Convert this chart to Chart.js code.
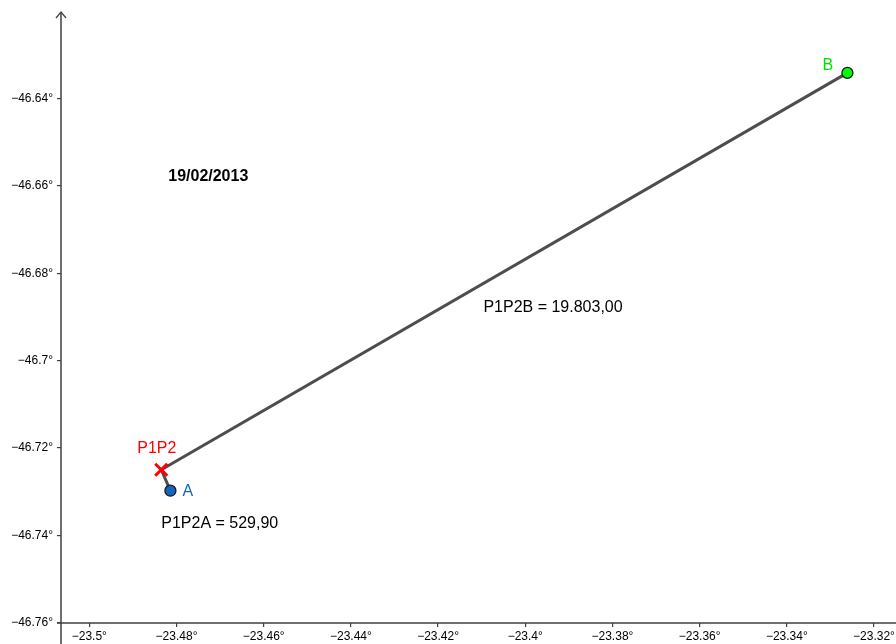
<!DOCTYPE html>
<html>
<head>
<meta charset="utf-8">
<script src="https://cdn.jsdelivr.net/npm/chart.js@4"></script>
<style>
  html, body { margin: 0; padding: 0; background: #fff; }
  #wrap { width: 896px; height: 644px; }
</style>
</head>
<body>
<div id="wrap"><canvas id="geoChart" width="896" height="644"></canvas></div>
<script>
// points (x = lat, y = lon as plotted)
const pointNames = ['A', 'P1P2', 'B'];
const pointX = [-23.4814, -23.4835, -23.3261];
const pointY = [-46.7298, -46.7250, -46.6341];

// segments: pairs of point indices
const segments = [[1, 0], [1, 2]];

const xTicks = [-23.5, -23.48, -23.46, -23.44, -23.42, -23.4, -23.38, -23.36, -23.34, -23.32];
const yTicks = [-46.76, -46.74, -46.72, -46.7, -46.68, -46.66, -46.64];

const dateText = '19/02/2013';
const distText = ['P1P2A = 529,90', 'P1P2B = 19.803,00'];
// anchors of free texts, in data coords (left, middle)
const dateAt = [-23.4819, -46.6575];
const distAt = [[-23.4835, -46.7369], [-23.4096, -46.6874]];

const FONT = '"Liberation Sans", Arial, sans-serif';
const AXIS = '#404040';

function fmt(v) {
	let s = String(Math.abs(v));
	return (v < 0 ? '\u2212' : '') + s + '\u00b0';
}

function noPad(s) {
	s.paddingTop = 0; s.paddingBottom = 0;
	s.paddingLeft = 0; s.paddingRight = 0;
}

const pts = pointNames.map((n, i) => ({ x: pointX[i], y: pointY[i] }));

const segSets = segments.map(s => ({
	type: 'line',
	data: [pts[s[0]], pts[s[1]]],
	borderColor: '#4d4d4d',
	borderWidth: 3,
	pointRadius: 0,
	showLine: true,
	fill: false
}));

const labelsPlugin = {
	id: 'geoLabels',
	afterDatasetsDraw(chart) {
		const c = chart.ctx;
		const xs = chart.scales.x, ys = chart.scales.y;
		const area = chart.chartArea;
		const dy = 2; // baseline nudge
		c.save();
		// axes lines
		c.strokeStyle = AXIS;
		c.lineWidth = 1.5;
		c.beginPath();
		c.moveTo(area.left, 12);
		c.lineTo(area.left, chart.height);
		c.moveTo(area.left - 4, area.bottom);
		c.lineTo(chart.width, area.bottom);
		c.stroke();
		c.beginPath();
		c.moveTo(area.left - 5, 18);
		c.lineTo(area.left, 12);
		c.lineTo(area.left + 5, 18);
		c.lineWidth = 1.2;
		c.stroke();

		c.textBaseline = 'middle';
		c.textAlign = 'left';
		// free texts
		c.fillStyle = '#000';
		c.font = 'bold 16px ' + FONT;
		c.fillText(dateText, xs.getPixelForValue(dateAt[0]), ys.getPixelForValue(dateAt[1]) + dy);
		c.font = '16px ' + FONT;
		distText.forEach((t, i) => {
			c.fillText(t, xs.getPixelForValue(distAt[i][0]), ys.getPixelForValue(distAt[i][1]) + dy);
		});
		// point labels
		const offs = [[12, -1, '#1565c0'], [-24, -23, '#ff0000'], [-25, -9, '#00e000']];
		pointNames.forEach((n, i) => {
			const px = xs.getPixelForValue(pointX[i]);
			const py = ys.getPixelForValue(pointY[i]);
			c.fillStyle = offs[i][2];
			c.fillText(n, px + offs[i][0], py + offs[i][1] + dy);
		});
		c.restore();
	}
};

new Chart(document.getElementById('geoChart').getContext('2d'), {
	type: 'scatter',
	data: {
		datasets: [{
			data: pts,
			pointStyle: ['circle', 'crossRot', 'circle'],
			pointRadius: [5.5, 8.5, 5.5],
			pointBorderWidth: [1.3, 3, 1.3],
			pointBackgroundColor: ['#1565c0', '#ff0000', '#00ff00'],
			pointBorderColor: ['#1a1a1a', '#ff0000', '#1a1a1a'],
			pointHoverRadius: [5.5, 8.5, 5.5]
		}].concat(segSets)
	},
	plugins: [labelsPlugin],
	options: {
		responsive: false,
		animation: false,
		layout: { padding: 0, autoPadding: false },
		plugins: {
			legend: { display: false },
			tooltip: { enabled: false }
		},
		scales: {
			x: {
				type: 'linear',
				min: -23.5065,
				max: -23.31495,
				afterBuildTicks: s => { s.ticks = xTicks.map(v => ({ value: v })); },
				afterFit: s => { s.height = 21; noPad(s); },
				grid: { drawOnChartArea: false, drawTicks: true, tickLength: 4, color: AXIS, lineWidth: 1.2 },
				border: { display: false },
				ticks: {
					callback: v => fmt(v),
					color: '#000',
					padding: 2,
					maxRotation: 0,
					autoSkip: false,
					font: { family: FONT, size: 12 }
				}
			},
			y: {
				type: 'linear',
				min: -46.7601,
				max: -46.6174,
				afterBuildTicks: s => { s.ticks = yTicks.map(v => ({ value: v })); },
				afterFit: s => { s.width = 61; noPad(s); },
				grid: { drawOnChartArea: false, drawTicks: true, tickLength: 4, color: AXIS, lineWidth: 1.2 },
				border: { display: false },
				ticks: {
					callback: v => fmt(v),
					color: '#000',
					padding: 4,
					autoSkip: false,
					font: { family: FONT, size: 12 }
				}
			}
		}
	}
});
</script>
</body>
</html>
